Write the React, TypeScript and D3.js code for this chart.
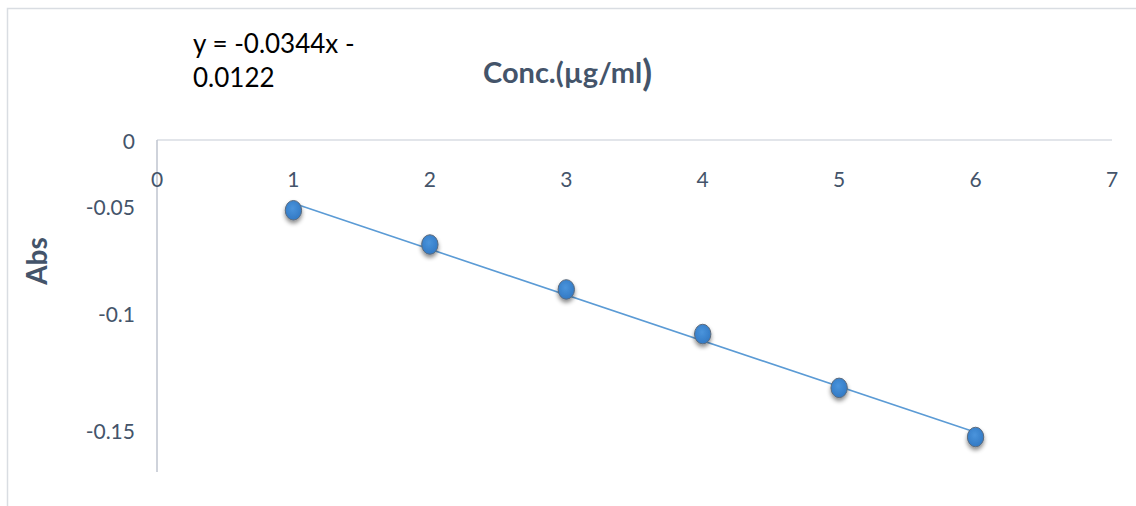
import React, { useEffect, useRef } from "react";
import * as d3 from "d3";

// Calibration series: concentration (µg/ml) vs absorbance
const concentrations = [1, 2, 3, 4, 5, 6];
const absorbance = [-0.052, -0.068, -0.089, -0.109, -0.132, -0.153];

// Fitted trendline end points
const trendX = [1, 6];
const trendY = [-0.048, -0.151];

const xTicks = [0, 1, 2, 3, 4, 5, 6, 7];
const yTicks = [0, -0.05, -0.1, -0.15];
const yTickLabels = ["0", "-0.05", "-0.1", "-0.15"];

const equationLines = ["y = -0.0344x -", "0.0122"];
const xTitle = "Conc.(µg/ml";
const yTitle = "Abs";

const W = 1136;
const H = 506;
const FONT = "Lato, 'Open Sans', sans-serif";
const TEXT = "#44546a";

export default function App() {
  const ref = useRef<SVGSVGElement | null>(null);

  useEffect(() => {
    const svg = d3.select(ref.current);
    svg.selectAll("*").remove();

    const x = d3.scaleLinear().domain([0, 7]).range([157, 1112]);
    // value axis, spaced unevenly as laid out in the source chart
    const y = d3
      .scaleLinear()
      .domain([0, -0.05, -0.1, -0.15])
      .range([140, 206, 313, 430]);
    const yBottom = -0.168;

    const defs = svg.append("defs");
    const f = defs
      .append("filter")
      .attr("id", "shadow")
      .attr("x", "-60%")
      .attr("y", "-60%")
      .attr("width", "220%")
      .attr("height", "220%");
    f.append("feDropShadow")
      .attr("dx", 0)
      .attr("dy", 3)
      .attr("stdDeviation", 2.2)
      .attr("flood-color", "#000")
      .attr("flood-opacity", 0.45);
    const g = defs
      .append("radialGradient")
      .attr("id", "dot")
      .attr("cx", "45%")
      .attr("cy", "40%")
      .attr("r", "60%");
    g.append("stop").attr("offset", "0%").attr("stop-color", "#4a94dc");
    g.append("stop").attr("offset", "100%").attr("stop-color", "#3279c4");

    svg.append("rect").attr("width", W).attr("height", H).attr("fill", "#fff");

    // chart frame
    svg
      .append("path")
      .attr("d", `M7.5,${H}V8.5H${W}`)
      .attr("fill", "none")
      .attr("stroke", "#d9dde2")
      .attr("stroke-width", 1.5);

    // horizontal axis line (at y = 0)
    svg
      .append("line")
      .attr("x1", x(0))
      .attr("x2", x(7))
      .attr("y1", y(0))
      .attr("y2", y(0))
      .attr("stroke", "#d9dde3")
      .attr("stroke-width", 1.5);

    // vertical axis line
    svg
      .append("line")
      .attr("x1", x(0))
      .attr("x2", x(0))
      .attr("y1", y(0))
      .attr("y2", y(yBottom))
      .attr("stroke", "#bfc5cf")
      .attr("stroke-width", 1.5);

    // tick labels
    svg
      .append("g")
      .selectAll("text")
      .data(xTicks)
      .join("text")
      .attr("x", (d) => x(d))
      .attr("y", 178)
      .attr("text-anchor", "middle")
      .attr("dominant-baseline", "central")
      .attr("font-family", FONT)
      .attr("font-size", 21)
      .attr("fill", TEXT)
      .text((d) => String(d));

    svg
      .append("g")
      .selectAll("text")
      .data(yTicks)
      .join("text")
      .attr("x", 135)
      .attr("y", (d) => y(d))
      .attr("text-anchor", "end")
      .attr("dominant-baseline", "central")
      .attr("font-family", FONT)
      .attr("font-size", 21)
      .attr("fill", TEXT)
      .text((_, i) => yTickLabels[i]);

    // trendline
    const line = d3
      .line<number>()
      .x((d) => x(d))
      .y((_, i) => y(trendY[i]));
    svg
      .append("path")
      .attr("d", line(trendX))
      .attr("fill", "none")
      .attr("stroke", "#5b9bd5")
      .attr("stroke-width", 1.6);

    // markers
    svg
      .append("g")
      .selectAll("ellipse")
      .data(concentrations)
      .join("ellipse")
      .attr("cx", (d) => x(d))
      .attr("cy", (_, i) => y(absorbance[i]))
      .attr("rx", 8.2)
      .attr("ry", 9.8)
      .attr("fill", "url(#dot)")
      .attr("stroke", "#5b6a7c")
      .attr("stroke-width", 1)
      .attr("filter", "url(#shadow)");

    // equation label
    svg
      .append("g")
      .selectAll("text")
      .data(equationLines)
      .join("text")
      .attr("x", 193)
      .attr("y", (_, i) => 53 + i * 34)
      .attr("font-family", FONT)
      .attr("font-size", 26)
      .attr("fill", "#000")
      .text((d) => d);

    // axis titles
    const t = svg
      .append("text")
      .attr("x", 483)
      .attr("y", 83)
      .attr("font-family", FONT)
      .attr("font-size", 29)
      .attr("font-weight", "bold")
      .attr("fill", TEXT);
    t.append("tspan").text(xTitle);
    t.append("tspan").attr("font-size", 36).attr("dy", 3).text(")");

    svg
      .append("text")
      .attr("transform", `translate(47,261) rotate(-90)`)
      .attr("text-anchor", "middle")
      .attr("font-family", FONT)
      .attr("font-size", 28)
      .attr("font-weight", "bold")
      .attr("fill", TEXT)
      .text(yTitle);
  }, []);

  return (
    <svg
      ref={ref}
      width={W}
      height={H}
      style={{ position: "absolute", left: 0, top: 0, display: "block" }}
    />
  );
}
